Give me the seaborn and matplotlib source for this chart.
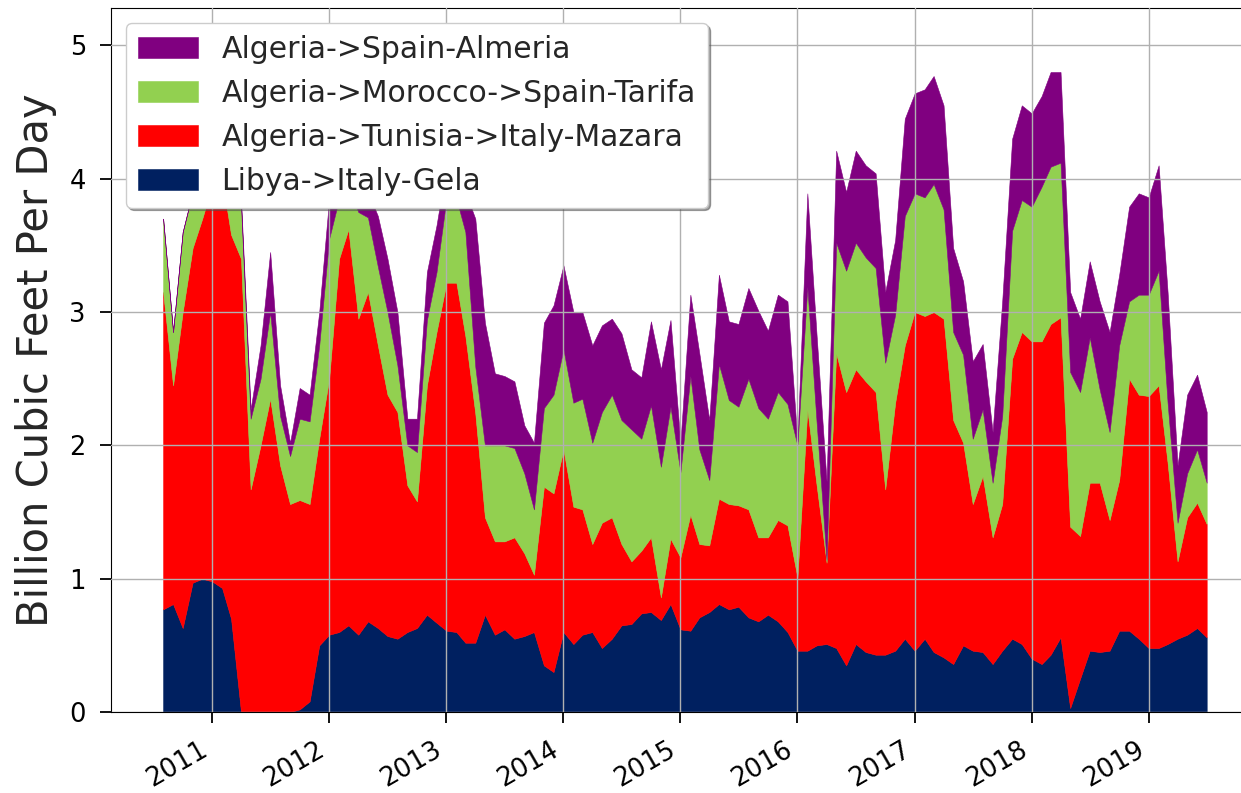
import numpy as np
import pandas as pd
import matplotlib
matplotlib.use("Agg")
import matplotlib.pyplot as plt
import matplotlib.dates as mdates
import seaborn as sns

# Monthly pipeline flows, Aug 2010 - Jul 2019 (billion cubic feet per day)
months = pd.date_range("2010-08-01", periods=108, freq="MS")

libya_gela = [
    0.77, 0.81, 0.63, 0.97, 1.00, 0.98, 0.93, 0.70, 0.00, 0.00, 0.00, 0.00,
    0.00, 0.00, 0.02, 0.08, 0.50, 0.58, 0.60, 0.65, 0.58, 0.68, 0.63, 0.57,
    0.55, 0.60, 0.63, 0.73, 0.67, 0.61, 0.60, 0.52, 0.52, 0.73, 0.58, 0.62,
    0.55, 0.57, 0.60, 0.35, 0.30, 0.60, 0.51, 0.58, 0.60, 0.48, 0.55, 0.65,
    0.66, 0.74, 0.75, 0.69, 0.81, 0.62, 0.61, 0.71, 0.75, 0.81, 0.77, 0.79,
    0.71, 0.68, 0.73, 0.68, 0.60, 0.46, 0.46, 0.50, 0.51, 0.48, 0.35, 0.51,
    0.45, 0.43, 0.43, 0.46, 0.55, 0.46, 0.55, 0.45, 0.41, 0.36, 0.50, 0.46,
    0.45, 0.36, 0.46, 0.55, 0.51, 0.40, 0.36, 0.43, 0.56, 0.03, 0.25, 0.46,
    0.45, 0.46, 0.61, 0.61, 0.55, 0.48, 0.48, 0.51, 0.55, 0.58, 0.63, 0.56,
]
tunisia_mazara = [
    2.38, 1.64, 2.37, 2.51, 2.70, 2.97, 3.07, 2.88, 3.40, 1.67, 2.00, 2.35,
    1.85, 1.56, 1.57, 1.48, 1.55, 1.92, 2.80, 2.97, 2.37, 2.47, 2.12, 1.81,
    1.70, 1.10, 0.95, 1.72, 2.18, 2.61, 2.62, 2.30, 1.72, 0.73, 0.70, 0.66,
    0.76, 0.62, 0.43, 1.34, 1.34, 1.37, 1.03, 0.94, 0.66, 0.94, 0.91, 0.61,
    0.47, 0.47, 0.56, 0.17, 0.49, 0.54, 0.87, 0.55, 0.50, 0.79, 0.79, 0.76,
    0.81, 0.63, 0.58, 0.76, 0.80, 0.55, 1.81, 1.20, 0.61, 2.21, 2.05, 2.06,
    2.03, 1.97, 1.24, 1.86, 2.20, 2.54, 2.42, 2.55, 2.54, 1.83, 1.52, 1.10,
    1.32, 0.95, 1.10, 2.10, 2.34, 2.38, 2.42, 2.48, 2.40, 1.36, 1.07, 1.26,
    1.27, 0.98, 1.13, 1.89, 1.83, 1.89, 1.97, 1.36, 0.58, 0.88, 0.94, 0.85,
]
morocco_tarifa = [
    0.55, 0.40, 0.60, 0.42, 0.35, 0.30, 0.25, 0.42, 0.40, 0.53, 0.50, 0.65,
    0.37, 0.36, 0.61, 0.62, 0.70, 1.05, 0.45, 0.33, 0.80, 0.56, 0.59, 0.62,
    0.35, 0.30, 0.37, 0.49, 0.45, 0.63, 0.63, 0.78, 0.35, 0.54, 0.72, 0.72,
    0.67, 0.60, 0.49, 0.59, 0.74, 0.75, 0.78, 0.83, 0.76, 0.83, 0.92, 0.93,
    0.99, 0.84, 0.99, 0.98, 0.99, 0.64, 1.04, 0.71, 0.49, 1.01, 0.78, 0.74,
    0.98, 0.97, 0.89, 0.96, 0.91, 0.99, 0.92, 0.47, 0.02, 0.83, 0.91, 0.95,
    0.93, 0.93, 0.95, 0.66, 0.97, 0.89, 0.89, 0.96, 0.82, 0.66, 0.66, 0.49,
    0.50, 0.41, 0.66, 0.96, 0.99, 1.01, 1.16, 1.18, 1.16, 1.16, 1.08, 1.09,
    0.70, 0.66, 1.01, 0.58, 0.75, 0.76, 0.86, 0.45, 0.29, 0.33, 0.40, 0.31,
]
spain_almeria = [
    0.00, 0.00, 0.00, 0.00, 0.00, 0.00, 0.00, 0.00, 0.05, 0.07, 0.25, 0.45,
    0.23, 0.10, 0.23, 0.20, 0.25, 0.30, 0.20, 0.20, 0.20, 0.19, 0.38, 0.40,
    0.40, 0.20, 0.25, 0.36, 0.35, 0.25, 0.25, 0.30, 1.11, 0.92, 0.54, 0.52,
    0.50, 0.36, 0.50, 0.64, 0.67, 0.63, 0.68, 0.65, 0.73, 0.65, 0.57, 0.65,
    0.45, 0.46, 0.63, 0.73, 0.65, 0.22, 0.61, 0.72, 0.45, 0.67, 0.59, 0.62,
    0.68, 0.73, 0.66, 0.73, 0.77, 0.03, 0.70, 0.65, 0.59, 0.69, 0.59, 0.69,
    0.69, 0.71, 0.53, 0.56, 0.73, 0.75, 0.81, 0.81, 0.78, 0.63, 0.55, 0.58,
    0.49, 0.38, 0.86, 0.69, 0.71, 0.70, 0.68, 0.71, 0.68, 0.60, 0.55, 0.57,
    0.66, 0.75, 0.53, 0.71, 0.76, 0.73, 0.79, 0.83, 0.43, 0.59, 0.56, 0.53,
]

series_labels = [
    "Libya->Italy-Gela",
    "Algeria->Tunisia->Italy-Mazara",
    "Algeria->Morocco->Spain-Tarifa",
    "Algeria->Spain-Almeria",
]
series_colors = ["#002060", "#ff0000", "#92d050", "#800080"]

# estilo
sns.set_style("ticks", {"axes.grid": True, "grid.color": "#b0b0b0",
                        "axes.edgecolor": "black", "xtick.color": "black",
                        "ytick.color": "black"})
plt.rcParams["font.family"] = ["DejaVu Sans"]

fig = plt.figure(figsize=(12.41, 7.93), dpi=100)
# the right part of the axes runs past the edge of the picture
ax = fig.add_axes([0.0894, 0.1021, 0.925, 0.8878])

ax.stackplot(months, libya_gela, tunisia_mazara, morocco_tarifa, spain_almeria,
             colors=series_colors, labels=series_labels,
             linewidth=0.4, edgecolor="face")

ax.set_axisbelow(False)
ax.grid(True, color="#b0b0b0", linewidth=1.0)

span = months[-1] - months[0]
ax.set_xlim(months[0] - 0.05 * span, months[-1] + 0.05 * span)
ax.set_ylim(0, 5.28)
ax.set_yticks([0, 1, 2, 3, 4, 5])
ax.xaxis.set_major_locator(mdates.YearLocator())
ax.xaxis.set_major_formatter(mdates.DateFormatter("%Y"))
for lbl in ax.get_xticklabels():
    lbl.set_rotation(30)
    lbl.set_ha("right")

ax.tick_params(axis="both", labelsize=18.5, length=8, width=1.3,
               pad=10, direction="out")
ax.set_ylabel("Billion Cubic Feet Per Day", fontsize=30, labelpad=9)
ax.spines["right"].set_visible(False)

handles, labels = ax.get_legend_handles_labels()
ax.legend(handles[::-1], labels[::-1], loc="upper left",
          fontsize=21.5, shadow=True, fancybox=True, framealpha=1,
          edgecolor="#cccccc")

fig.savefig("out.png", dpi=100)
